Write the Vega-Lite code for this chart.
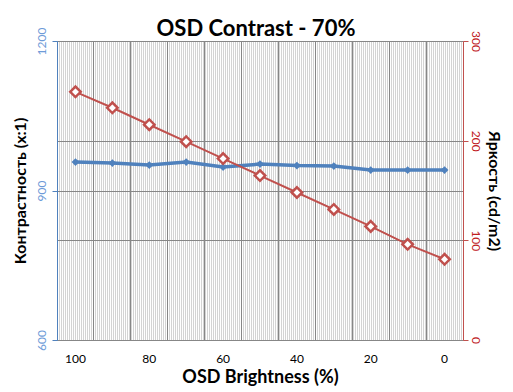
{
  "$schema": "https://vega.github.io/schema/vega-lite/v6.json",
  "width": 406,
  "height": 299,
  "autosize": "none",
  "padding": {"left": 57, "top": 41, "right": 50, "bottom": 52},
  "background": "white",
  "config": {
    "font": "Lato",
    "view": {"stroke": null},
    "axis": {"labelFont": "Lato", "titleFont": "Lato"}
  },
  "title": {
    "text": "OSD Contrast - 70%",
    "fontSize": 22,
    "fontWeight": "bold",
    "font": "Lato",
    "color": "black",
    "offset": -14,
    "dx": -4
  },
  "data": {
    "values": [
      {"pct": 100, "contrast": 957, "brightness": 249},
      {"pct": 90, "contrast": 955, "brightness": 233},
      {"pct": 80, "contrast": 951, "brightness": 216},
      {"pct": 70, "contrast": 957, "brightness": 199},
      {"pct": 60, "contrast": 947, "brightness": 182},
      {"pct": 50, "contrast": 953, "brightness": 165},
      {"pct": 40, "contrast": 950, "brightness": 148},
      {"pct": 30, "contrast": 949, "brightness": 131},
      {"pct": 20, "contrast": 941, "brightness": 114},
      {"pct": 10, "contrast": 941, "brightness": 96},
      {"pct": 0, "contrast": 941, "brightness": 81}
    ]
  },
  "layer": [
    {
      "mark": {"type": "point", "opacity": 0},
      "encoding": {
        "x": {
          "field": "pct",
          "type": "quantitative",
          "scale": {"domain": [0, 203], "nice": false, "zero": false},
          "axis": {
            "orient": "top",
            "grid": true,
            "gridColor": "#d4d4d4",
            "gridWidth": 1,
            "gridOpacity": 1,
            "tickCount": 203,
            "labels": false,
            "ticks": false,
            "domain": false,
            "title": null
          }
        }
      }
    },
    {
      "mark": {"type": "point", "opacity": 0},
      "encoding": {
        "x": {
          "field": "pct",
          "type": "ordinal",
          "sort": "descending",
          "scale": {"type": "band", "paddingInner": 0, "paddingOuter": 0},
          "axis": {
            "orient": "top",
            "bandPosition": 0,
            "grid": true,
            "gridColor": "#878787",
            "gridWidth": 1,
            "gridOpacity": 1,
            "labels": false,
            "ticks": false,
            "domain": false,
            "title": null
          }
        }
      }
    },
    {
      "encoding": {
        "x": {
          "field": "pct",
          "type": "ordinal",
          "sort": "descending",
          "scale": {"type": "band", "paddingInner": 0, "paddingOuter": 0},
          "axis": {
            "orient": "bottom",
            "title": "OSD Brightness (%)",
            "titleFontSize": 18,
            "titleFontWeight": "bold",
            "titleColor": "black",
            "titlePadding": 4,
            "labelAngle": 0,
            "labelFontSize": 12,
            "labelColor": "black",
            "labelPadding": 13,
            "labelExpr": "datum.value % 20 == 0 ? datum.label : ''",
            "ticks": false,
            "domain": true,
            "domainColor": "#878787",
            "domainWidth": 1,
            "grid": false
          }
        },
        "y": {
          "field": "contrast",
          "type": "quantitative",
          "scale": {"domain": [600, 1200], "nice": false, "zero": false},
          "axis": {
            "orient": "left",
            "values": [600, 900, 1200],
            "format": "d",
            "title": "Контрастность (x:1)",
            "titleFontSize": 16,
            "titleFontWeight": "bold",
            "titleColor": "black",
            "titlePadding": 7,
            "labelAngle": 270,
            "labelFontSize": 12,
            "labelColor": "#6E9BD8",
            "labelPadding": 4,
            "tickColor": "#4F81BD",
            "tickSize": 5,
            "domainColor": "#4F81BD",
            "domainWidth": 1,
            "grid": true,
            "gridColor": "#878787",
            "gridOpacity": 1
          }
        }
      },
      "layer": [
        {"mark": {"type": "line", "color": "#4F81BD", "strokeWidth": 3.5}},
        {"mark": {"type": "point", "shape": "diamond", "filled": true, "color": "#4F81BD", "size": 60, "opacity": 1}}
      ]
    },
    {
      "encoding": {
        "x": {
          "field": "pct",
          "type": "ordinal",
          "sort": "descending",
          "scale": {"type": "band", "paddingInner": 0, "paddingOuter": 0},
          "axis": null
        },
        "y": {
          "field": "brightness",
          "type": "quantitative",
          "scale": {"domain": [0, 300], "nice": false, "zero": false},
          "axis": {
            "orient": "right",
            "values": [0, 100, 200, 300],
            "format": "d",
            "title": "Яркость (cd/m2)",
            "titleFontSize": 16,
            "titleFontWeight": "bold",
            "titleColor": "black",
            "titlePadding": 4,
            "labelAngle": 90,
            "labelFontSize": 12,
            "labelColor": "#C0201E",
            "labelPadding": 0,
            "tickColor": "#C0504D",
            "tickSize": 5,
            "domainColor": "#C0504D",
            "domainWidth": 1,
            "grid": true,
            "gridColor": "#878787",
            "gridOpacity": 1
          }
        }
      },
      "layer": [
        {"mark": {"type": "line", "color": "#C0504D", "strokeWidth": 2}},
        {"mark": {"type": "point", "shape": "diamond", "filled": true, "fill": "white", "stroke": "#C0504D", "strokeWidth": 2.5, "size": 110, "opacity": 1}}
      ]
    }
  ],
  "resolve": {
    "scale": {"x": "independent", "y": "independent"},
    "axis": {"x": "independent", "y": "independent"}
  }
}
